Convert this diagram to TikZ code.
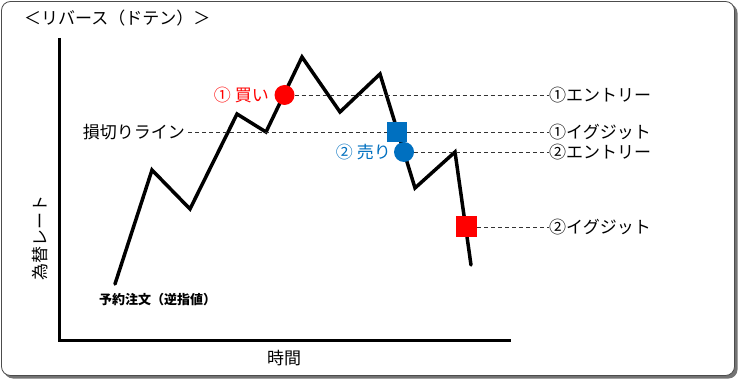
\documentclass[tikz,border=0pt]{standalone}
\usepackage{fontspec}
\setmainfont{Noto Sans CJK JP}
\definecolor{myred}{RGB}{255,0,0}
\definecolor{myblue}{RGB}{0,112,192}
\begin{document}
\begin{tikzpicture}[x=1pt,y=-1pt,
  lbl/.style={inner sep=0pt,font=\fontsize{17}{17}\selectfont},
  small/.style={inner sep=0pt,font=\fontsize{13}{13}\selectfont\bfseries},
  guide/.style={draw=black!80,line width=0.9pt,dash pattern=on 4pt off 3pt},
  price/.style={line width=3.5pt,line join=miter,line cap=round},
  axis/.style={line width=3pt},
  dot/.style={circle,minimum size=20pt,inner sep=0pt},
  sq/.style={rectangle,minimum size=20pt,inner sep=0pt}]
\useasboundingbox (0,0) rectangle (738,379);
% frame with shadow
\fill[black!55,rounded corners=9pt] (4,4) rectangle (737.5,378.5);
\draw[draw=black!70,fill=white,line width=0.8pt,rounded corners=9pt] (1.5,1.5) rectangle (734.5,375.5);
% title
\node[lbl,anchor=west] (title) at (24,18) {＜リバース（ドテン）＞};
% axes
\coordinate (top) at (59,38);
\coordinate (orig) at (59,340);
\coordinate (right) at (511,340);
\draw[axis] (top) -- (orig) -- (right);
\node[lbl,rotate=90] (ylab) at (40,238) {為替レート};
\node[lbl] (xlab) at (284,358) {時間};
\node[small,anchor=west] (order) at (99,300) {予約注文（逆指値）};
% right labels
\node[lbl,anchor=west] (e1) at (549,95) {①エントリー};
\node[lbl,anchor=west] (x1) at (549,132) {①イグジット};
\node[lbl,anchor=west] (e2) at (549,152) {②エントリー};
\node[lbl,anchor=west] (x2) at (549,227) {②イグジット};
\node[lbl,anchor=east] (stop) at (185,132) {損切りライン};
% price path
\draw[price] (115,284) -- (152,170) -- (190,209) -- (237,114) -- (266,132) -- (302,57) -- (340,112) -- (380,74) -- (415,188) -- (455,152) -- (471,265);
% markers
\node[dot,fill=myred] (buy) at (284.5,95) {};
\node[sq,fill=myblue] (exit1) at (397,132) {};
\node[dot,fill=myblue] (sell) at (404,152) {};
\node[sq,fill=myred,minimum size=21pt] (exit2) at (466.5,227) {};
% guide lines
\draw[guide] (buy.east) -- (e1.west);
\draw[guide] (stop.east) ++(3,0) coordinate (s0) -- (exit1.west);
\draw[guide] (exit1.east) -- (x1.west);
\draw[guide] (sell.east) -- (e2.west);
\draw[guide] (exit2.east) -- (x2.west);
% marker labels
\node[lbl,anchor=east,text=myred] (buylab) at (269,95) {①\hspace{4pt}買い};
\node[lbl,anchor=east,text=myblue] (selllab) at (391,152) {②\hspace{4pt}売り};
\end{tikzpicture}
\end{document}
